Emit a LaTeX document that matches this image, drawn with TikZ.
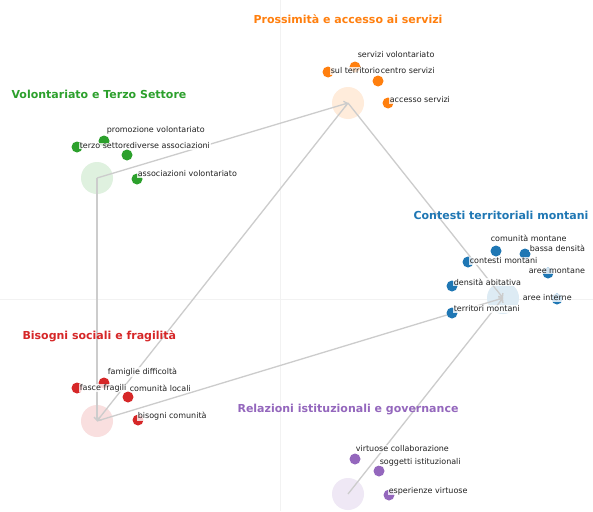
\documentclass[tikz,border=0pt]{standalone}
\usepackage{fontspec}
\setmainfont{DejaVu Sans}
\usetikzlibrary{arrows.meta}
\definecolor{cO}{HTML}{FF7F0E}
\definecolor{cG}{HTML}{2CA02C}
\definecolor{cB}{HTML}{1F77B4}
\definecolor{cR}{HTML}{D62728}
\definecolor{cP}{HTML}{9467BD}
\definecolor{edgegray}{HTML}{CCCCCC}
\definecolor{axisgray}{HTML}{F2F2F2}
\definecolor{labtext}{HTML}{222222}
\begin{document}
\begin{tikzpicture}[x=1pt,y=-1pt,
  bigc/.style={circle,minimum size=32pt,inner sep=0pt,fill=#1!15},
  dotn/.style={circle,minimum size=11pt,inner sep=0pt,fill=#1},
  lab/.style={anchor=west,font=\fontsize{8}{9}\selectfont,text=labtext,fill=white,fill opacity=0.8,text opacity=1,inner sep=0.6pt},
  ttl/.style={font=\fontsize{11}{13}\bfseries\selectfont,text=#1},
  edge/.style={draw=edgegray,line width=1.3pt,-{Straight Barb[length=3pt,width=6pt]}},
  axis/.style={draw=axisgray,line width=0.6pt}]
\useasboundingbox (0,0) rectangle (593,511);
\fill[white] (0,0) rectangle (593,511);
% faint axes
\coordinate (ax1) at (280,0); \coordinate (ax2) at (280,511);
\coordinate (ay1) at (0,299); \coordinate (ay2) at (593,299);
\draw[axis] (ax1) -- (ax2);
\draw[axis] (ay1) -- (ay2);
% cluster centers
\node[bigc=cO] (P) at (348,103) {};
\node[bigc=cG] (V) at (97,178) {};
\node[bigc=cB] (C) at (503,298) {};
\node[bigc=cR] (B) at (97,421) {};
\node[bigc=cP] (R) at (348,494) {};
% edges
\draw[edge] (V.center) -- (P.center);
\draw[edge] (P.center) -- (C.center);
\draw[edge] (P.center) -- (B.center);
\draw[edge] (V.center) -- (B.center);
\draw[edge] (B.center) -- (C.center);
\draw[edge] (R.center) -- (C.center);
% titles
\node[ttl=cO] (tP) at (348,19) {Prossimità e accesso ai servizi};
\node[ttl=cG,anchor=west] (tV) at (8,94) {Volontariato e Terzo Settore};
\node[ttl=cB,anchor=east] (tC) at (592,215) {Contesti territoriali montani};
\node[ttl=cR,anchor=west] (tB) at (19,336) {Bisogni sociali e fragilità};
\node[ttl=cP] (tR) at (348,410) {Relazioni istituzionali e governance};
% dots
\node[dotn=cO] (p1) at (355,67) {};
\node[dotn=cO] (p2) at (328,72) {};
\node[dotn=cO] (p3) at (378,81) {};
\node[dotn=cO] (p4) at (388,103) {};
\node[dotn=cG] (v1) at (104,141) {};
\node[dotn=cG] (v2) at (77,147) {};
\node[dotn=cG] (v3) at (127,155) {};
\node[dotn=cG] (v4) at (137,179) {};
\node[dotn=cB] (c1) at (496,251) {};
\node[dotn=cB] (c2) at (525,254) {};
\node[dotn=cB] (c3) at (468,262) {};
\node[dotn=cB] (c4) at (548,273) {};
\node[dotn=cB] (c5) at (452,286) {};
\node[dotn=cB] (c6) at (557,299) {};
\node[dotn=cB] (c7) at (452,313) {};
\node[dotn=cR] (b1) at (104,383) {};
\node[dotn=cR] (b2) at (77,388) {};
\node[dotn=cR] (b3) at (128,397) {};
\node[dotn=cR] (b4) at (138,420) {};
\node[dotn=cP] (r1) at (355,459) {};
\node[dotn=cP] (r2) at (379,471) {};
\node[dotn=cP] (r3) at (389,495) {};
% labels
\node[lab] (lp1) at (357,55) {servizi volontariato};
\node[lab] (lp2) at (330,71) {sul territorio};
\node[lab] (lp3) at (380,71) {centro servizi};
\node[lab] (lp4) at (389,100) {accesso servizi};
\node[lab] (lv1) at (106,130) {promozione volontariato};
\node[lab] (lv2) at (79,146) {terzo settore};
\node[lab] (lv3) at (129,146) {diverse associazioni};
\node[lab] (lv4) at (137,174) {associazioni volontariato};
\node[lab] (lc1) at (490,238) {comunità montane};
\node[lab] (lc2) at (529,248) {bassa densità};
\node[lab] (lc3) at (469,261) {contesti montani};
\node[lab] (lc4) at (528,271) {aree montane};
\node[lab] (lc5) at (453,282) {densità abitativa};
\node[lab] (lc6) at (522,298) {aree interne};
\node[lab] (lc7) at (453,309) {territori montani};
\node[lab] (lb1) at (107,372) {famiglie difficoltà};
\node[lab] (lb2) at (79,388) {fasce fragili};
\node[lab] (lb3) at (129,388) {comunità locali};
\node[lab] (lb4) at (137,416) {bisogni comunità};
\node[lab] (lr1) at (355,449) {virtuose collaborazione};
\node[lab] (lr2) at (379,462) {soggetti istituzionali};
\node[lab] (lr3) at (388,491) {esperienze virtuose};
\end{tikzpicture}
\end{document}
